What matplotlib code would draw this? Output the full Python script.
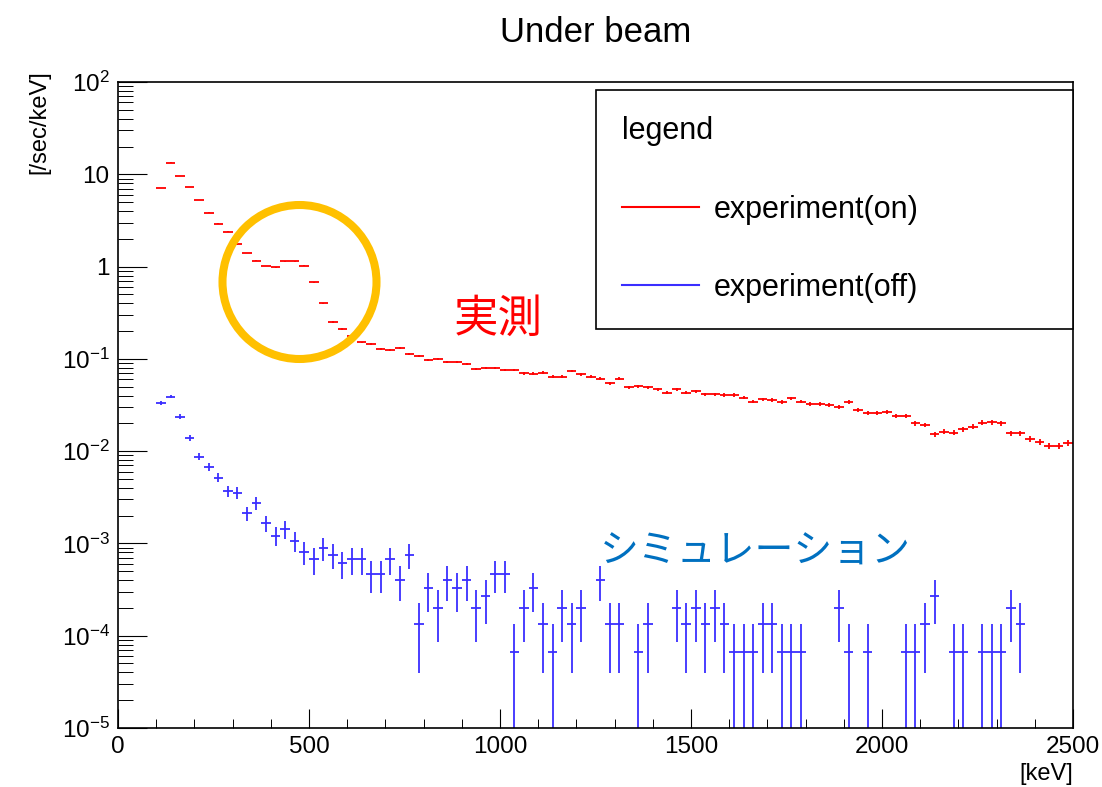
import numpy as np
import matplotlib
matplotlib.use("Agg")
import matplotlib.pyplot as plt
from matplotlib.lines import Line2D
from matplotlib.patches import Ellipse
from matplotlib.ticker import (MultipleLocator, FixedLocator, FuncFormatter,
                               NullFormatter)

plt.rcParams["font.family"] = ["Liberation Sans", "DejaVu Sans"]
plt.rcParams["mathtext.fontset"] = "custom"
plt.rcParams["mathtext.rm"] = "Liberation Sans"
plt.rcParams["mathtext.it"] = "Liberation Sans:italic"
plt.rcParams["mathtext.bf"] = "Liberation Sans:bold"

# ---- histogram binning (keV) ----
BIN_LOW = 100.0
BIN_WIDTH = 25.0
N_BINS = 96
# live time x bin width: one count per bin corresponds to 1/EXPOSURE [/sec/keV]
EXPOSURE = 15040.0

# ---- measured rate with beam on [/sec/keV] ----
rate_on = [
    7.05, 13.4, 9.66, 7.23, 5.23, 3.84, 2.92, 2.39, 1.74, 1.40,
    1.16, 1.01, 0.98, 1.14, 1.14, 1.02, 0.676, 0.40, 0.251, 0.211,
    0.177, 0.151, 0.145, 0.127, 0.125, 0.131, 0.112, 0.107, 0.0973, 0.099,
    0.0918, 0.0918, 0.0881, 0.0771, 0.0791, 0.0791, 0.0759, 0.0754, 0.0698, 0.069,
    0.071, 0.0641, 0.0641, 0.0734, 0.0681, 0.0641, 0.061, 0.0544, 0.061, 0.0492,
    0.0505, 0.0492, 0.0469, 0.043, 0.0469, 0.043, 0.0446, 0.0413, 0.0413, 0.0406,
    0.0406, 0.038, 0.0344, 0.0365, 0.0359, 0.0339, 0.0374, 0.0344, 0.0325, 0.0325,
    0.0317, 0.0303, 0.0339, 0.0279, 0.0258, 0.0261, 0.0268, 0.0239, 0.024, 0.020,
    0.0192, 0.0152, 0.0163, 0.0159, 0.0173, 0.0184, 0.0204, 0.0206, 0.020, 0.0156,
    0.0156, 0.0135, 0.0125, 0.0114, 0.0114, 0.0122,
]

# ---- rate with beam off [/sec/keV]; 0 = empty bin ----
rate_off = [
    0.0335, 0.0389, 0.0237, 0.0140, 0.0087, 0.0067, 0.00516, 0.00371, 0.00355, 0.00212,
    0.00273, 0.00166, 0.00121, 0.00143, 0.00107, 0.00081, 0.00067, 0.00089, 0.00075, 0.00061,
    0.00067, 0.00067, 0.00047, 0.00047, 0.00067, 0.00040, 0.00075, 1.33e-4, 3.3e-4, 2.0e-4,
    4.0e-4, 3.3e-4, 4.0e-4, 2.0e-4, 2.66e-4, 4.66e-4, 4.66e-4, 6.65e-5, 2.0e-4, 3.3e-4,
    1.33e-4, 6.65e-5, 2.0e-4, 1.33e-4, 2.0e-4, 0, 4.0e-4, 1.33e-4, 1.33e-4, 0,
    6.65e-5, 1.33e-4, 0, 0, 2.0e-4, 1.33e-4, 2.0e-4, 1.33e-4, 2.0e-4, 1.33e-4,
    6.65e-5, 6.65e-5, 6.65e-5, 1.33e-4, 1.33e-4, 6.65e-5, 6.65e-5, 6.65e-5, 0, 0,
    0, 2.0e-4, 6.65e-5, 0, 6.65e-5, 0, 0, 0, 6.65e-5, 6.65e-5,
    1.33e-4, 2.66e-4, 0, 6.65e-5, 6.65e-5, 0, 6.65e-5, 6.65e-5, 6.65e-5, 2.0e-4,
    1.33e-4, 0, 0, 0, 0, 0,
]

series_labels = ["experiment(on)", "experiment(off)"]
series_colors = ["#ff0000", "#3a2eff"]

x_ticks = [0, 500, 1000, 1500, 2000, 2500]
y_decades = [1e-5, 1e-4, 1e-3, 1e-2, 1e-1, 1, 10, 100]

energy = BIN_LOW + BIN_WIDTH * (np.arange(N_BINS) + 0.5)


def poisson_bars(rate):
    """Statistical error bars (lower, upper) for a rate histogram."""
    rate = np.asarray(rate, dtype=float)
    err = np.sqrt(rate / EXPOSURE)
    lower = np.where(rate - err <= 0, rate * (1 - 1e-9), err)
    return lower, err


fig = plt.figure(figsize=(11.02, 7.87), dpi=100)
ax = fig.add_axes([0.1071, 0.0750, 0.8666, 0.8208])

for rate, color in zip([rate_on, rate_off], series_colors):
    rate = np.asarray(rate, dtype=float)
    keep = rate > 0
    lo, hi = poisson_bars(rate[keep])
    ax.errorbar(energy[keep], rate[keep], xerr=BIN_WIDTH / 2, yerr=[lo, hi],
                fmt="none", ecolor=color, elinewidth=1.3, capsize=0)

ax.set_xlim(0, 2500)
ax.set_yscale("log")
ax.set_ylim(1e-5, 1e2)

ax.xaxis.set_major_locator(FixedLocator(x_ticks))
ax.xaxis.set_minor_locator(MultipleLocator(100))
ax.xaxis.set_major_formatter(FuncFormatter(lambda v, pos: "%d" % v))

# decade ticks plus 2..9 sub-ticks inside the plotted range only
minor_y = [m * d for d in y_decades[:-1] for m in range(2, 10)]
ax.yaxis.set_major_locator(FixedLocator(y_decades))
ax.yaxis.set_minor_locator(FixedLocator(minor_y))
ax.yaxis.set_minor_formatter(NullFormatter())


def decade_label(v, pos):
    e = int(round(np.log10(v)))
    if e == 0:
        return "1"
    if e == 1:
        return "10"
    return r"$\mathregular{10^{%d}}$" % e


ax.yaxis.set_major_formatter(FuncFormatter(decade_label))
ax.xaxis.get_offset_text().set_visible(False)
ax.yaxis.get_offset_text().set_visible(False)

ax.tick_params(axis="both", which="both", direction="in", top=False, right=False,
               colors="black")
ax.tick_params(axis="x", which="major", length=13.5, width=0.8, pad=6, labelsize=17.5)
ax.tick_params(axis="x", which="minor", length=6.5, width=0.7)
ax.tick_params(axis="y", which="major", length=21, width=0.8, pad=6, labelsize=17.5)
ax.tick_params(axis="y", which="minor", length=11, width=0.7)

for sp in ax.spines.values():
    sp.set_linewidth(1.2)
    sp.set_color("black")

ax.set_title("Under beam", fontsize=25, pad=29)
ax.set_xlabel("[keV]", fontsize=17, loc="right")
ax.xaxis.set_label_coords(1.0, -0.054)
ax.set_ylabel("[/sec/keV]", fontsize=17, loc="top")
ax.yaxis.set_label_coords(-0.0712, 1.018)

handles = [Line2D([], [], color=c, lw=1.5) for c in series_colors]
leg = ax.legend(handles, series_labels, title="legend", loc="upper left",
                bbox_to_anchor=(0.5005, 0.9876, 0.4995, 0.0), mode="expand",
                borderaxespad=0, fontsize=22, title_fontsize=22,
                handlelength=2.5, handletextpad=0.5, borderpad=0.86,
                labelspacing=1.58, alignment="left", fancybox=False,
                framealpha=1, edgecolor="black")
leg.get_frame().set_linewidth(1.2)

# highlight of the structure around 450 keV
fig.add_artist(Ellipse((299.5 / 1102, 1 - 282 / 787), 2 * 77 / 1102, 2 * 77 / 787,
                       transform=fig.transFigure, fill=False,
                       edgecolor="#ffc000", lw=5.8))

cjk = ["Noto Sans CJK JP", "DejaVu Sans"]
fig.text(498 / 1102, 1 - 319 / 787, "実測", color="#ff0000", fontsize=32,
         family=cjk, ha="center", va="center")
fig.text(755 / 1102, 1 - 552 / 787, "シミュレーション", color="#0070c0", fontsize=28,
         family=cjk, ha="center", va="center")

fig.savefig("out.png", dpi=100)
